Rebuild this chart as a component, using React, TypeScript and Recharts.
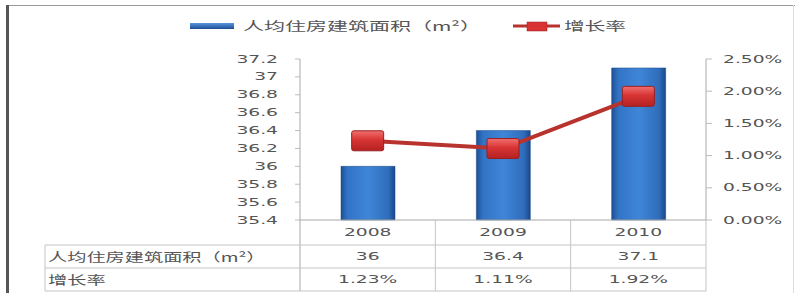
import React from 'react';
import { ComposedChart, Bar, Line, XAxis, YAxis } from 'recharts';

const years = ['2008', '2009', '2010'];
const areaValues = [36, 36.4, 37.1];
const rateValues = [0.0123, 0.0111, 0.0192];
const rateLabels = ['1.23%', '1.11%', '1.92%'];
const areaTicks = [35.4, 35.6, 35.8, 36, 36.2, 36.4, 36.6, 36.8, 37, 37.2];
const rateTicks = [0, 0.005, 0.01, 0.015, 0.02, 0.025];
const areaName = '人均住房建筑面积（m²）';
const rateName = '增长率';

const data = years.map((y, i) => ({ year: y, area: areaValues[i], rate: rateValues[i], rateLabel: rateLabels[i] }));

const W = 795;
const H = 293;
const PLOT_LEFT = 300;
const PLOT_RIGHT = 706;
const PLOT_TOP = 59;
const PLOT_BOTTOM = 220;
const BAND = (PLOT_RIGHT - PLOT_LEFT) / years.length;
const ROW1 = 245;
const ROW2 = 268;
const TABLE_BOTTOM = 291;
const TABLE_LEFT = 45;
const TEXT = '#555555';
const GRID = '#c4c4c4';
const NUMFONT = '"DejaVu Sans", sans-serif';
const CJKFONT = '"Noto Sans CJK SC", sans-serif';

function SText({ x, y, anchor = 'middle', children, size = 11, family = NUMFONT, sx = 1.7 }: any) {
  return (
    <text
      transform={`translate(${x},${y}) scale(${sx},1)`}
      textAnchor={anchor}
      dominantBaseline="central"
      fontSize={size}
      fontFamily={family}
      fill={TEXT}
    >
      {children}
    </text>
  );
}

const LeftTick = (props: any) => {
  const { x, y, payload } = props;
  return <SText x={x} y={y} anchor="end">{String(payload.value)}</SText>;
};

const RightTick = (props: any) => {
  const { x, y, payload } = props;
  return <SText x={x} y={y} anchor="start">{(payload.value * 100).toFixed(2) + '%'}</SText>;
};

const TableTick = (props: any) => {
  const { x, index } = props;
  const i = index;
  const l = x - BAND / 2;
  const r = x + BAND / 2;
  return (
    <g>
      {i === 0 && (
        <g>
          <line x1={l} x2={l} y1={PLOT_BOTTOM} y2={TABLE_BOTTOM} stroke="#a8a8a8" />
          <line x1={TABLE_LEFT} x2={TABLE_LEFT} y1={ROW1} y2={TABLE_BOTTOM} stroke={GRID} />
          <line x1={TABLE_LEFT} x2={l} y1={ROW1} y2={ROW1} stroke={GRID} />
          <line x1={TABLE_LEFT} x2={l} y1={ROW2} y2={ROW2} stroke={GRID} />
          <line x1={TABLE_LEFT} x2={l} y1={TABLE_BOTTOM} y2={TABLE_BOTTOM} stroke={GRID} />
          <SText x={TABLE_LEFT + 3} y={(ROW1 + ROW2) / 2} anchor="start" size={12} family={CJKFONT} sx={1.6}>{areaName}</SText>
          <SText x={TABLE_LEFT + 3} y={(ROW2 + TABLE_BOTTOM) / 2} anchor="start" size={12} family={CJKFONT} sx={1.6}>{rateName}</SText>
        </g>
      )}
      <line x1={r} x2={r} y1={PLOT_BOTTOM} y2={TABLE_BOTTOM} stroke={GRID} />
      <line x1={l} x2={r} y1={ROW1} y2={ROW1} stroke={GRID} />
      <line x1={l} x2={r} y1={ROW2} y2={ROW2} stroke={GRID} />
      <line x1={l} x2={r} y1={TABLE_BOTTOM} y2={TABLE_BOTTOM} stroke={GRID} />
      <SText x={x} y={(PLOT_BOTTOM + ROW1) / 2}>{years[i]}</SText>
      <SText x={x} y={(ROW1 + ROW2) / 2}>{String(areaValues[i])}</SText>
      <SText x={x} y={(ROW2 + TABLE_BOTTOM) / 2}>{rateLabels[i]}</SText>
    </g>
  );
};

const RateDot = (props: any) => {
  const { cx, cy } = props;
  if (cx == null || cy == null) return null;
  return (
    <rect x={cx - 16} y={cy - 10} width={32} height={20} rx={2} fill="url(#dotGrad)" stroke="#9a1f1f" strokeWidth={1} />
  );
};

export default function App() {
  return (
    <div style={{ position: 'absolute', left: 0, top: 0, width: W, height: H, background: '#fff', overflow: 'hidden' }}>
      <ComposedChart width={W} height={H} data={data} margin={{ top: PLOT_TOP, right: 0, bottom: 0, left: 0 }} barCategoryGap={0}>
        <defs>
          <linearGradient id="barGrad" x1="0" y1="0" x2="1" y2="0">
            <stop offset="0%" stopColor="#1c4f96" />
            <stop offset="12%" stopColor="#3273c4" />
            <stop offset="50%" stopColor="#3f86d8" />
            <stop offset="88%" stopColor="#2f6dbb" />
            <stop offset="100%" stopColor="#1a4789" />
          </linearGradient>
          <linearGradient id="dotGrad" x1="0" y1="0" x2="0" y2="1">
            <stop offset="0%" stopColor="#f07070" />
            <stop offset="45%" stopColor="#d83434" />
            <stop offset="100%" stopColor="#b42222" />
          </linearGradient>
        </defs>
        <XAxis
          dataKey="year"
          height={H - PLOT_BOTTOM}
          interval={0}
          tickLine={false}
          tickSize={0}
          tickMargin={0}
          axisLine={{ stroke: '#a8a8a8' }}
          tick={<TableTick />}
        />
        <YAxis
          yAxisId="left"
          orientation="left"
          width={PLOT_LEFT}
          domain={[35.4, 37.2]}
          ticks={areaTicks}
          interval={0}
          tickSize={5}
          tickMargin={17}
          tickLine={{ stroke: '#bdbdbd' }}
          axisLine={{ stroke: '#a8a8a8' }}
          tick={<LeftTick />}
        />
        <YAxis
          yAxisId="right"
          orientation="right"
          width={W - PLOT_RIGHT}
          domain={[0, 0.025]}
          ticks={rateTicks}
          interval={0}
          tickSize={6}
          tickMargin={11}
          tickLine={{ stroke: '#bdbdbd' }}
          axisLine={{ stroke: '#a8a8a8' }}
          tick={<RightTick />}
        />
        <Bar yAxisId="left" dataKey="area" barSize={54} fill="url(#barGrad)" stroke="#1a4789" strokeWidth={0.5} isAnimationActive={false} />
        <Line
          yAxisId="right"
          dataKey="rate"
          stroke="#b8322e"
          strokeWidth={4}
          dot={<RateDot />}
          activeDot={false}
          isAnimationActive={false}
        />
      </ComposedChart>
      <svg width={W} height={H} style={{ position: 'absolute', left: 0, top: 0, pointerEvents: 'none' }}>
        <line x1={6} x2={W} y1={5.5} y2={5.5} stroke="#9a9a9a" strokeWidth={1} />
        <line x1={7.5} x2={7.5} y1={5} y2={H} stroke="#555" strokeWidth={3} />
        <line x1={793.5} x2={793.5} y1={5} y2={H} stroke="#dddddd" strokeWidth={1} />
        <rect x={190} y={23} width={44} height={6} fill="url(#legBar)" />
        <defs>
          <linearGradient id="legBar" x1="0" y1="0" x2="0" y2="1">
            <stop offset="0%" stopColor="#5a95dc" />
            <stop offset="100%" stopColor="#1c4f96" />
          </linearGradient>
        </defs>
        <SText x={243} y={26} anchor="start" size={12} family={CJKFONT} sx={1.75}>{areaName}</SText>
        <line x1={513} x2={560} y1={26} y2={26} stroke="#b8322e" strokeWidth={3} />
        <rect x={527} y={22} width={20} height={9} fill="#d83434" stroke="#9a1f1f" strokeWidth={0.5} />
        <SText x={564} y={26} anchor="start" size={12} family={CJKFONT} sx={1.72}>{rateName}</SText>
      </svg>
    </div>
  );
}
